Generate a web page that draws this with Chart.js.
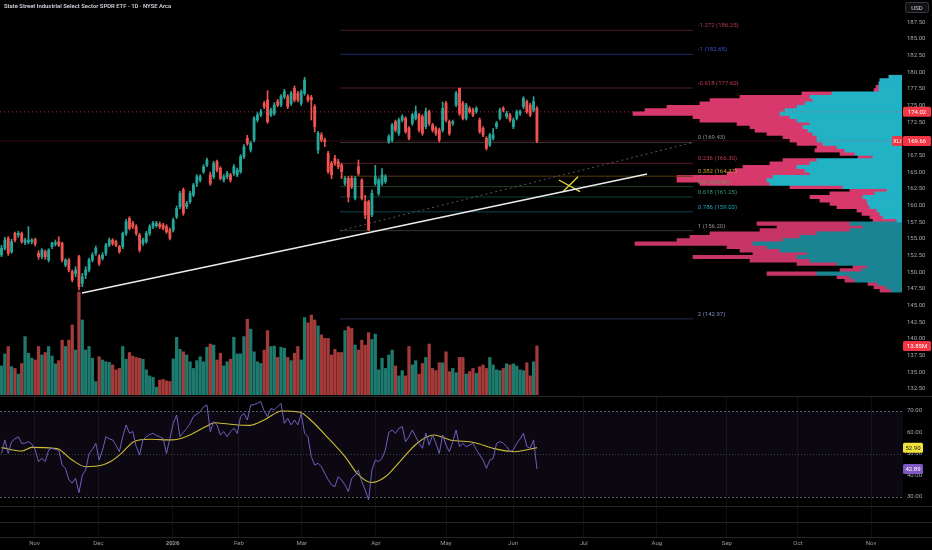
<!DOCTYPE html>
<html>
<head>
<meta charset="utf-8">
<script src="https://cdn.jsdelivr.net/npm/chart.js@4.4.1/dist/chart.umd.min.js"></script>
<style>
  html, body { margin: 0; padding: 0; background: #000; }
  #wrap { position: relative; width: 932px; height: 550px; overflow: hidden; background: #000; font-family: Roboto, "Open Sans", sans-serif; }
  .pane { position: absolute; left: 0; }
  #title { position: absolute; left: 4px; top: 3px; font-size: 5.9px; font-weight: 600; color: #d1d4dc; z-index: 5; white-space: nowrap; }
</style>
</head>
<body>
<div id="wrap">
  <div id="title">State Street Industrial Select Sector SPDR ETF · 1D · NYSE Arca</div>
  <div class="pane" style="top:0;width:902px;height:395px"><canvas id="profile"></canvas></div>
  <div class="pane" style="top:0;width:932px;height:395px"><canvas id="price"></canvas></div>
  <div class="pane" style="top:396px;width:932px;height:154px"><canvas id="rsi"></canvas></div>
</div>
<script>
// ---- data ----
const monthPos = [9.8, 28.8, 50.8, 70.5, 89.2, 111.2, 132, 151.9, 172.9, 194.6, 215.4, 236.5, 258.2];
const monthLabels = ['Nov', 'Dec', '2026', 'Feb', 'Mar', 'Apr', 'May', 'Jun', 'Jul', 'Aug', 'Sep', 'Oct', 'Nov'];
const priceTicks = [132.5, 135, 137.5, 140, 142.5, 145, 147.5, 150, 152.5, 155, 157.5, 160, 162.5, 165, 167.5, 170, 172.5, 175, 177.5, 180, 182.5, 185, 187.5];
const rsiTicks = [30, 40, 50, 60, 70];

const opens = [152.55,153.55,155.05,153.05,155.8,155.55,155.8,154.4,154.5,154.55,
  154.9,152.8,152.3,153.05,151.8,153.8,154.2,154.55,154.3,151.05,
  151.8,150.05,149.8,152.3,148.3,149.55,150.3,151.8,152.8,152.3,
  152.05,152.8,154.05,154.8,154.55,153.8,153.8,155.8,158.05,157.3,
  156.8,155.55,154.3,154.55,155.8,156.8,156.95,157.2,157.05,156.8,
  156.3,156.3,158.3,159.8,162.3,159.8,160.55,161.55,163.3,163.8,
  165.05,166.05,164.55,164.3,166.55,165.55,163.8,164.3,164.55,164.8,
  164.55,165.05,167.3,170.05,168.3,169.8,172.8,173.55,175.3,175.8,
  173.55,173.8,175.55,175.05,176.3,176.3,175.3,177.55,176.8,175.3,
  176.8,176.3,176.2,174.8,168.3,170.55,169.8,167.8,166.3,167.05,
  166.55,166.05,163.3,164.05,164.05,161.05,165.8,163.8,160.55,160.55,
  158.55,163.3,161.8,163.3,163.55,169.55,169.8,172.55,170.8,172.8,
  173.05,171.55,172.3,173.05,173.55,173.3,171.8,174.05,172.05,171.55,
  171.3,171.3,175.3,172.55,172.3,175.05,177.55,175.3,173.05,174.55,
  174.3,174.05,172.8,171.55,170.05,169.05,170.05,171.8,173.05,174.55,
  173.3,173.55,171.8,173.05,173.8,174.8,175.55,175.05,174.3,174.55];
const highs = [154,155.2,155.3,154.9,156,156.1,156,155.1,156.8,155,
  155.1,153.2,153.5,153.3,153.5,154.5,154.8,155.3,154.5,152,
  152,150.3,150.8,152.5,149.8,150.8,152.1,152.9,153.9,152.6,
  152.9,154.3,155.1,155,154.8,154,156,157.9,158.3,157.6,
  157.1,155.8,155.1,156.1,157.1,157.6,157.6,157.5,157.3,157.1,
  156.6,158.1,159.9,162.1,162.6,160.6,162.1,163.3,164.6,164.6,
  166.1,167.1,165,166.6,166.8,165.8,164.6,165.1,164.8,166.1,
  165.6,167.6,169.1,170.5,169.6,173.3,173.9,174.4,175.6,177.2,
  174.6,175.4,175.9,176.6,177.4,176.6,177.1,177.9,177.1,177.3,
  179.2,176.6,176.5,175.1,171.1,170.9,170.1,168.1,166.6,167.5,
  166.9,166.3,164.3,164.3,164.4,164.3,166.8,164,161.5,160.8,
  162.3,166,164.1,165.5,164.6,170.6,172.3,172.8,173.1,173.6,
  173.3,171.8,173.8,174.9,173.8,173.6,174.6,174.3,172.3,171.8,
  171.6,175.5,175.6,172.8,172.8,177.1,177.6,175.6,175.3,174.8,
  174.6,174.8,173.1,171.8,170.3,170.8,171.5,172.6,174.6,174.8,
  174.1,173.8,173.1,174.3,174.3,176.3,175.8,175.3,176.3,174.8];
const lows = [152.3,153.3,152.5,152.8,154.5,155.2,154.3,154.1,154.2,154.2,
  153.9,151.9,152,151.9,151.5,153.5,153.9,153.8,151.5,150.8,
  150,148.5,149.3,147.3,147.8,149,150,151.5,152.5,151,
  151.8,152.5,153.8,154,153.8,152.8,153.5,155.5,156.3,156.5,
  155.5,153,154,154.3,155.5,156.5,156.7,156.5,156.3,155.8,
  154.8,156,158,159.5,158.5,159.5,160.3,161.3,162.8,163.5,
  164.8,165.8,163,164,165,163.8,163.5,164,163.5,164.5,
  164.3,164.8,167,169,168,169.5,172.5,173.3,174.5,172.3,
  173.3,173.5,174.8,174.8,176,174.5,175,175.5,175.5,175,
  176.5,175.5,172.8,171,167.8,169.5,168.8,164.8,164,166,
  165.5,164,163,160.5,162.5,160.8,164.5,160.8,158,156.2,
  158.3,163,161.5,163,163.3,169.3,169.5,171,170.5,172.5,
  170.8,169.8,172,172.8,171,170.5,171.5,172,171,170.5,
  169.5,171,172.5,170.5,172,174.8,173.5,172.8,172.8,173.8,
  173.3,173.8,170.8,170.3,168.3,168.8,169.8,171.5,172.8,174,
  173,172.5,171.5,172.8,173.5,174.5,173.8,173.3,174,169.4];
const closes = [153.55,154.8,152.8,154.55,154.8,155.8,154.55,154.8,154.8,154.8,
  154.2,152.3,153.3,152.3,153.3,154.3,154.4,154.05,151.8,151.8,
  150.3,148.8,150.3,147.8,149.3,150.3,151.8,152.55,153.55,151.3,
  152.55,154.05,154.8,154.3,154.05,153.05,155.8,157.55,156.55,156.8,
  155.8,153.3,154.8,155.8,156.8,157.3,157.3,156.8,156.55,156.05,
  155.05,157.8,159.55,161.8,158.8,160.3,161.8,163.05,164.3,164.3,
  165.8,166.8,163.3,166.3,165.3,164.05,164.3,164.8,163.8,165.8,
  165.3,167.3,168.8,169.3,169.3,173.05,173.55,174.05,174.8,172.55,
  174.3,175.05,175.05,176.3,177.05,174.8,176.8,175.8,175.8,177.05,
  178.8,175.8,175.8,171.8,170.8,169.8,169.55,165.05,164.55,166.3,
  165.8,165.05,164.05,161.3,162.8,164.05,164.8,161.05,158.55,156.3,
  161.8,164.3,163.8,164.55,164.3,170.3,172.05,171.3,172.8,173.3,
  171.05,170.05,173.55,174.05,171.3,170.8,174.05,172.3,171.3,170.8,
  169.8,174.55,172.8,170.8,172.55,176.8,173.8,173.05,175.05,174.05,
  173.55,174.55,171.05,170.55,168.55,170.55,170.55,172.3,174.3,174.3,
  173.8,172.8,172.8,174.05,174.05,176.05,174.05,173.55,175.55,169.66];
// volume in millions
const volumes = [8.2,11.6,13.7,8.0,7.5,5.9,8.9,16.5,11.8,10.4,
  9.9,13.7,11.3,12.0,13.7,11.0,8.8,9.7,15.5,13.7,
  15.5,19.8,12.7,29.1,21.2,12.7,13.7,10.4,3.8,10.8,
  9.9,9.4,9.2,8.5,7.1,7.5,13.7,10.1,12.0,11.0,
  10.6,10.4,10.1,7.1,5.4,5.0,2.2,4.2,4.4,4.0,
  3.8,10.2,16.3,12.9,12.2,11.3,9.4,7.5,9.7,10.8,
  9.4,13.5,14.4,14.1,9.9,11.8,8.2,9.4,10.1,16.3,
  11.6,11.6,16.5,21.4,18.6,12.2,9.4,8.9,12.7,18.2,
  13.7,13.8,10.6,13.5,13.2,10.6,9.7,11.8,13.7,9.9,
  21.9,20.4,22.6,21.2,19.5,17.0,16.0,16.0,11.3,12.9,
  12.0,12.0,18.2,19.3,18.8,14.1,12.7,15.5,14.1,17.6,
  15.7,17.2,7.1,10.4,7.5,11.3,12.7,8.2,5.4,6.9,
  5.4,13.7,8.5,9.7,5.9,8.9,10.6,14.4,7.5,6.9,
  9.1,9.1,12.2,6.6,7.5,6.3,10.6,10.6,5.9,6.6,
  7.5,6.1,8.0,8.5,7.5,10.6,8.5,7.1,6.9,7.5,
  8.8,8.5,8.8,8.2,7.1,6.9,9.1,5.4,9.4,13.85];
const rsi = [50.2,56.5,50.2,55.7,57,58,54.9,55,55.7,54.6,
  51.8,46.4,47.9,46.4,51.8,52.6,52,51.8,44.8,43.2,
  37.8,36.3,38.6,31.9,40.1,42.5,50.2,52,54.9,47.1,
  51.8,58,57,56.5,54,51,58,63.5,59.6,60.4,
  53.4,49.5,56.5,58,59,59.6,58.5,58,57.2,50.2,
  57.2,64.2,68.1,58,60,61.9,64.2,67.4,68.5,69.7,
  72,72.8,60.4,65,63.5,58.8,60.4,58,60.4,61.9,
  59.6,67.4,68.9,65.8,72.8,73,73.6,74.4,70,67.4,
  71.2,70.5,72,73.6,64.2,66.6,63.5,65.8,63.5,68.9,
  59.6,58,48.7,44.8,45.6,44,40.9,38,35.5,34.7,
  39.4,37.8,35.5,32.4,38.6,40,42.5,37,33.1,28.5,
  42.5,47.1,46.4,47.9,51.8,60,61.1,59.6,61.9,62.7,
  55.7,58,61.1,58,54.9,52.6,59.6,54.1,58.8,54.9,
  50.2,58.8,54.1,51,55.7,61.1,53.4,54.9,53.4,54.1,
  54.9,52,49.5,47.1,43.2,47.1,47.9,54.9,55.7,55,
  53.4,51,51.8,54.9,57,59.6,53.4,52.6,56.5,42.89];
const rsiMaPos = [0, 6, 9, 15.5, 17, 21, 25, 30, 32.4, 35.6, 39.3, 44.1, 50.5, 54.7, 61, 63.2, 67.4, 73.8, 78, 83.3, 88.6, 91.8, 97.1, 102.4, 105.6, 109.9, 114.1, 118.3, 123.6, 128.4, 133.2, 140.6, 145.9, 152.3, 159];
const rsiMaVals = [52.9, 51.3, 53, 52.6, 52.2, 47.1, 44, 44.8, 46.4, 50.2, 55.7, 56.8, 56.5, 58, 63, 64.5, 63.9, 63.3, 65.8, 70, 69.4, 65.8, 57.2, 47.9, 40.9, 36.6, 39.4, 46.4, 55.2, 58.8, 56.5, 55.2, 52.6, 51, 52.9];

const fibRatios = ['-1.272', '-1', '-0.618', '0', '0.236', '0.382', '0.5', '0.618', '0.786', '1', '2'];
const fibPrices = [186.25, 182.65, 177.60, 169.43, 166.30, 164.37, 162.81, 161.25, 159.03, 156.20, 142.97];
const fibSpan = [100.5, 205.3];
const trendPos = [23.9, 191.7];
const trendVals = [146.85, 164.7];
const fibTrendPos = [100.5, 205.3];
const fibTrendVals = [156.2, 169.43];
const crossPosA = [165.5, 171.8], crossValsA = [163.8, 162.05];
const crossPosB = [166.7, 171.2], crossValsB = [162.05, 164.3];
const markPrice = 174.02, lastPrice = 169.66, lastVolume = 13.85, lastRsi = 42.89, lastRsiMa = 52.90;

// volume profile rows (price bin centre, up part, down part)
const profilePrices = [147.25,147.75,148.25,148.75,149.25,149.75,150.25,150.75,151.25,151.75,
  152.25,152.75,153.25,153.75,154.25,154.75,155.25,155.75,156.25,156.75,
  157.25,157.75,158.25,158.75,159.25,159.75,160.25,160.75,161.25,161.75,
  162.25,162.75,163.25,163.75,164.25,164.75,165.25,165.75,166.25,166.75,
  167.25,167.75,168.25,168.75,169.25,169.75,170.25,170.75,171.25,171.75,
  172.25,172.75,173.25,173.75,174.25,174.75,175.25,175.75,176.25,176.75,
  177.25,177.75,178.25,178.75,179.25];
const profileUp = [11,16,24,47,52,85,40,35,65,92,
  105,95,122,135,149,119,102,85,52,39,
  52,5,19,22,25,32,34,35,39,27,
  15,59,132,135,129,92,97,105,92,85,
  29,47,57,65,79,85,85,89,94,99,
  92,105,112,122,117,105,97,89,92,70,
  23,23,23,22,13];
const profileDown = [11,12,10,10,13,50,22,14,40,60,
  104,54,40,40,118,106,110,107,90,86,
  93,24,13,18,20,33,38,47,53,45,
  37,53,70,90,96,83,70,54,40,34,
  15,15,30,20,26,27,34,46,53,53,
  73,97,97,147,140,130,105,103,70,30,
  5,3,0,0,0];
const valueAreaLow = 157.5;

// ---- layout / style ----
const xMin = -0.445, xMax = 267.7;
const priceMin = 131.55, priceMax = 190.8;
const upColor = '#26a69a', downColor = '#ef5350';
const volUp = '#1d7a6d', volDown = '#a53a3a';
const fibLineColors = ['#4e1822', '#1c2a6a', '#5a1a26', '#343434', '#5a1a26', '#54390f', '#1f4022', '#0e4036', '#0a434e', '#343434', '#282e50'];
const fibTextColors = ['#b53d52', '#3e56c6', '#c23a55', '#8f8f8f', '#c23a55', '#c99b2c', '#5e9c5a', '#2f9e80', '#1ea6bb', '#8f8f8f', '#7f8abf'];

Chart.defaults.font.family = 'Roboto, "Open Sans", sans-serif';
Chart.defaults.font.size = 6;

const isUp = i => closes[i] >= opens[i];
const candleColor = ctx => isUp(ctx.dataIndex) ? upColor : downColor;
const hidePad = s => { s.paddingTop = 0; s.paddingBottom = 0; s.paddingLeft = 0; s.paddingRight = 0; };

function drawTag(ctx, x, yc, w, text, bg, fg) {
  ctx.fillStyle = bg;
  ctx.beginPath();
  ctx.roundRect(x, yc - 5, w, 10, 1.5);
  ctx.fill();
  ctx.fillStyle = fg;
  ctx.font = '6px Roboto';
  ctx.textAlign = 'center';
  ctx.textBaseline = 'middle';
  ctx.fillText(text, x + w / 2, yc + 0.5);
}

function lineDs(xs, ys, color, width, dash, order) {
  return {
    type: 'line', order,
    data: xs.map((x, k) => ({ x, y: ys[k] })),
    borderColor: color, borderWidth: width, borderDash: dash || [],
    pointRadius: 0, fill: false, tension: 0
  };
}

// ---- volume profile (underneath) ----
new Chart(document.getElementById('profile'), {
  type: 'bar',
  data: {
    datasets: [
      {
        data: profilePrices.map((p, k) => ({ x: profileUp[k], y: p })),
        backgroundColor: ctx => profilePrices[ctx.dataIndex] >= valueAreaLow ? '#22b2c6' : '#1b8492',
        barThickness: 3.5, stack: 'vp', borderSkipped: false
      },
      {
        data: profilePrices.map((p, k) => ({ x: profileDown[k], y: p })),
        backgroundColor: ctx => profilePrices[ctx.dataIndex] >= valueAreaLow ? '#d8396d' : '#c73466',
        barThickness: 3.5, stack: 'vp', borderSkipped: false
      }
    ]
  },
  options: {
    indexAxis: 'y',
    responsive: true, maintainAspectRatio: false, animation: false,
    layout: { padding: 0 },
    plugins: { legend: { display: false }, tooltip: { enabled: false } },
    scales: {
      x: { type: 'linear', display: false, min: 0, max: 902, reverse: true, stacked: true, offset: false },
      y: { type: 'linear', display: false, min: priceMin, max: priceMax, stacked: true, offset: false }
    }
  }
});

// ---- price pane ----
const priceDecor = {
  id: 'priceDecor',
  afterDatasetsDraw(chart) {
    const { ctx, scales: { x, y } } = chart;
    ctx.save();
    ctx.font = '6px Roboto';
    ctx.textAlign = 'left';
    ctx.textBaseline = 'bottom';
    fibRatios.forEach((r, k) => {
      ctx.fillStyle = fibTextColors[k];
      ctx.fillText(r + ' (' + fibPrices[k].toFixed(2) + ')', x.getPixelForValue(fibSpan[1]) + 5, y.getPixelForValue(fibPrices[k]) - 1.5);
    });
    ctx.restore();
  },
  afterDraw(chart) {
    const { ctx, chartArea, scales: { y, vol } } = chart;
    const r = chartArea.right;
    ctx.save();
    drawTag(ctx, r, y.getPixelForValue(markPrice), 28, markPrice.toFixed(2), '#f23645', '#fff');
    drawTag(ctx, r - 11, y.getPixelForValue(lastPrice), 10.5, 'XLI', '#f23645', '#fff');
    drawTag(ctx, r, y.getPixelForValue(lastPrice), 28, lastPrice.toFixed(2), '#f23645', '#fff');
    drawTag(ctx, r, vol.getPixelForValue(lastVolume), 28, lastVolume.toFixed(2) + 'M', '#f23645', '#fff');
    // currency box
    ctx.fillStyle = '#111';
    ctx.strokeStyle = '#363a45';
    ctx.lineWidth = 1;
    ctx.beginPath();
    ctx.roundRect(r + 2.5, 2.5, 23, 10, 2);
    ctx.fill();
    ctx.stroke();
    ctx.fillStyle = '#d1d4dc';
    ctx.font = '6px Roboto';
    ctx.textAlign = 'center';
    ctx.textBaseline = 'middle';
    ctx.fillText('USD', r + 14, 8);
    ctx.restore();
  }
};

new Chart(document.getElementById('price'), {
  type: 'bar',
  data: {
    datasets: [
      {
        order: 0, data: closes.map((c, i) => ({ x: i, y: [opens[i], c] })),
        backgroundColor: candleColor, grouped: false, maxBarThickness: 2.2, minBarLength: 1,
        barPercentage: 1, categoryPercentage: 1
      },
      {
        order: 1, data: highs.map((h, i) => ({ x: i, y: [lows[i], h] })),
        backgroundColor: candleColor, grouped: false, maxBarThickness: 1,
        barPercentage: 1, categoryPercentage: 1
      },
      lineDs(trendPos, trendVals, '#ececec', 1.5, null, 2),
      lineDs(fibTrendPos, fibTrendVals, '#707070', 0.8, [2, 3], 3),
      lineDs(crossPosA, crossValsA, '#e6d83a', 1.3, null, 2),
      lineDs(crossPosB, crossValsB, '#e6d83a', 1.3, null, 2),
      lineDs([xMin, xMax], [markPrice, markPrice], 'rgba(242,54,69,0.75)', 1, [1, 3], 6),
      lineDs([xMin, xMax], [lastPrice, lastPrice], 'rgba(242,54,69,0.22)', 1, null, 6),
      ...fibPrices.map((p, k) => lineDs(fibSpan, [p, p], fibLineColors[k], 1, null, 5)),
      {
        order: 20, yAxisID: 'vol', data: volumes.map((v, i) => ({ x: i, y: v })),
        backgroundColor: ctx => isUp(ctx.dataIndex) ? volUp : volDown,
        grouped: false, maxBarThickness: 2.6, barPercentage: 1, categoryPercentage: 1
      }
    ]
  },
  options: {
    responsive: true, maintainAspectRatio: false, animation: false,
    layout: { padding: 0 },
    plugins: { legend: { display: false }, tooltip: { enabled: false } },
    scales: {
      x: {
        type: 'linear', min: xMin, max: xMax, offset: false,
        grid: { display: false, drawTicks: false }, border: { display: false },
        ticks: { display: false },
        afterFit: s => { s.height = 0; hidePad(s); }
      },
      y: {
        type: 'linear', position: 'right', min: priceMin, max: priceMax,
        grid: { display: false, drawTicks: false }, border: { display: false },
        ticks: { color: '#a3a6af', padding: 4, font: { size: 6 }, callback: v => v.toFixed(2) },
        afterBuildTicks: s => { s.ticks = priceTicks.map(v => ({ value: v })); },
        afterFit: s => { s.width = 29; hidePad(s); }
      },
      vol: { type: 'linear', display: false, min: 0, max: 111.6 }
    }
  },
  plugins: [priceDecor]
});

// ---- RSI pane + time axis ----
const rsiDecor = {
  id: 'rsiDecor',
  beforeDatasetsDraw(chart) {
    const { ctx, chartArea: a, scales: { y } } = chart;
    const y70 = y.getPixelForValue(70), y30 = y.getPixelForValue(30), y50 = y.getPixelForValue(50);
    ctx.save();
    ctx.fillStyle = 'rgba(126,87,194,0.09)';
    ctx.fillRect(a.left, y70, a.right - a.left, y30 - y70);
    ctx.lineWidth = 1;
    ctx.strokeStyle = '#5b5e6a';
    ctx.setLineDash([2, 2]);
    [y70, y30].forEach(v => { ctx.beginPath(); ctx.moveTo(a.left, Math.round(v) + 0.5); ctx.lineTo(a.right, Math.round(v) + 0.5); ctx.stroke(); });
    ctx.strokeStyle = '#3d3f48';
    ctx.setLineDash([1, 2]);
    ctx.beginPath(); ctx.moveTo(a.left, Math.round(y50) + 0.5); ctx.lineTo(a.right, Math.round(y50) + 0.5); ctx.stroke();
    // pane separators
    ctx.setLineDash([]);
    ctx.strokeStyle = '#262626';
    [0, 110, 126, a.bottom].forEach(v => { ctx.beginPath(); ctx.moveTo(0, v + 0.5); ctx.lineTo(chart.width, v + 0.5); ctx.stroke(); });
    ctx.restore();
  },
  afterDraw(chart) {
    const { ctx, chartArea, scales: { y } } = chart;
    ctx.save();
    drawTag(ctx, chartArea.right, y.getPixelForValue(lastRsiMa), 20, lastRsiMa.toFixed(2), '#f2e23a', '#131313');
    drawTag(ctx, chartArea.right, y.getPixelForValue(lastRsi), 20, lastRsi.toFixed(2), '#7e57c2', '#fff');
    ctx.restore();
  }
};

new Chart(document.getElementById('rsi'), {
  type: 'line',
  data: {
    datasets: [
      {
        data: rsi.map((v, i) => ({ x: i, y: v })),
        borderColor: '#7b68d0', borderWidth: 0.9, pointRadius: 0, tension: 0
      },
      {
        data: rsiMaPos.map((x, k) => ({ x, y: rsiMaVals[k] })),
        borderColor: '#cdbb36', borderWidth: 1.1, pointRadius: 0, cubicInterpolationMode: 'monotone'
      }
    ]
  },
  options: {
    responsive: true, maintainAspectRatio: false, animation: false,
    layout: { padding: 0 },
    plugins: { legend: { display: false }, tooltip: { enabled: false } },
    scales: {
      x: {
        type: 'linear', min: xMin, max: xMax, offset: false,
        grid: { color: '#101010', drawTicks: false }, border: { display: false },
        ticks: {
          color: '#9598a1', padding: 3, maxRotation: 0, autoSkip: false,
          font: c => ({ size: 6, weight: monthLabels[c.index] === '2026' ? 'bold' : 'normal' }),
          callback: (v, k) => monthLabels[k]
        },
        afterBuildTicks: s => { s.ticks = monthPos.map(v => ({ value: v })); },
        afterFit: s => { s.height = 13; hidePad(s); }
      },
      y: {
        type: 'linear', position: 'right', min: 11.19, max: 77.0,
        grid: { display: false, drawTicks: false }, border: { display: false },
        ticks: { color: '#a3a6af', padding: 4, font: { size: 6 }, callback: v => v.toFixed(2) },
        afterBuildTicks: s => { s.ticks = rsiTicks.map(v => ({ value: v })); },
        afterFit: s => { s.width = 29; hidePad(s); }
      }
    }
  },
  plugins: [rsiDecor]
});
</script>
</body>
</html>
